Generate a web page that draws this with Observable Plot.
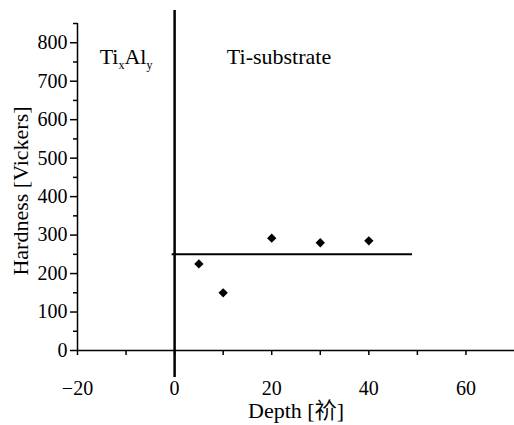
<!DOCTYPE html>
<html>
<head>
<meta charset="utf-8">
<script src="https://cdn.jsdelivr.net/npm/d3@7"></script>
<script src="https://cdn.jsdelivr.net/npm/@observablehq/plot@0.6"></script>
<style>
  html, body { margin: 0; padding: 0; background: white; }
</style>
</head>
<body>
<div id="chart"></div>
<script>
// Data
const depth = [5, 10, 20, 30, 40];
const hardness = [225, 150, 292, 280, 285];

// Interface between TixAly layer and Ti substrate
const boundaryDepth = [0];
const boundaryExtent = [-70, 884];

// Substrate hardness reference line
const substrateHardness = [250];
const substrateExtent = [-0.5, 49];

// Region labels
const regionLabels = ["TixAly", "Ti-substrate"];
const regionLabelX = [-10, 21.5];
const regionLabelY = [762, 762];

// Axes
const xTicks = [-20, 0, 20, 40, 60];
const xMinorTicks = [-20, -10, 0, 10, 20, 30, 40, 50, 60];
const yTicks = [0, 100, 200, 300, 400, 500, 600, 700, 800];
const yMinorTicks = [50, 150, 250, 350, 450, 550, 650, 750, 850];
const xDomain = [-20, 70];
const yDomain = [0, 850];
const xLabel = "Depth [祄]";
const yLabel = "Hardness [Vickers]";

const points = depth.map((d, i) => ({depth: d, hardness: hardness[i]}));
const labels = regionLabels.map((t, i) => ({text: t, x: regionLabelX[i], y: regionLabelY[i]}));

const chart = Plot.plot({
  width: 514,
  height: 425,
  marginLeft: 77,
  marginRight: 0,
  marginTop: 23,
  marginBottom: 75,
  x: {domain: xDomain},
  y: {domain: yDomain},
  style: {
    fontFamily: "'Liberation Serif', 'Noto Sans CJK SC', serif",
    fontSize: "20px",
    background: "white",
    color: "black"
  },
  marks: [
    Plot.axisY({ticks: yTicks, tickSize: 7, tickPadding: 3, label: null, strokeWidth: 1.5}),
    Plot.axisY({ticks: yMinorTicks, tickSize: 4, tickFormat: () => "", label: null, strokeWidth: 1.5}),
    Plot.axisX({ticks: xTicks, tickSize: 0, tickPadding: 30, label: null}),
    Plot.axisX({ticks: xMinorTicks, tickSize: 5, tickFormat: () => "", label: null, strokeWidth: 1.5}),
    Plot.ruleX([xDomain[0]], {y1: yDomain[0], y2: yDomain[1], strokeWidth: 1.5}),
    Plot.ruleY([yDomain[0]], {x1: xDomain[0], x2: xDomain[1], strokeWidth: 1.5}),
    Plot.ruleX(boundaryDepth, {y1: boundaryExtent[0], y2: boundaryExtent[1], strokeWidth: 2.5}),
    Plot.ruleY(substrateHardness, {x1: substrateExtent[0], x2: substrateExtent[1], strokeWidth: 2}),
    Plot.dot(points, {x: "depth", y: "hardness", symbol: "diamond2", r: 4.2, fill: "black", stroke: null}),
    Plot.text(labels, {x: "x", y: "y", text: "text", fontSize: 22}),
    Plot.text([yLabel], {text: d => d, frameAnchor: "left", textAnchor: "middle", dx: -57, dy: 4, rotate: -90, fontSize: 22}),
    Plot.text([xLabel], {text: d => d, frameAnchor: "bottom", textAnchor: "middle", dy: 67, fontSize: 22})
  ]
});

// Add subscripts to the TixAly label
d3.select(chart).selectAll("text").each(function() {
  if (this.textContent === "TixAly") {
    const t = d3.select(this);
    t.text(null);
    t.append("tspan").text("Ti");
    t.append("tspan").attr("dy", 5).attr("font-size", 12).text("x");
    t.append("tspan").attr("dy", -5).text("Al");
    t.append("tspan").attr("dy", 5).attr("font-size", 12).text("y");
  }
});

document.getElementById("chart").appendChild(chart);
</script>
</body>
</html>
